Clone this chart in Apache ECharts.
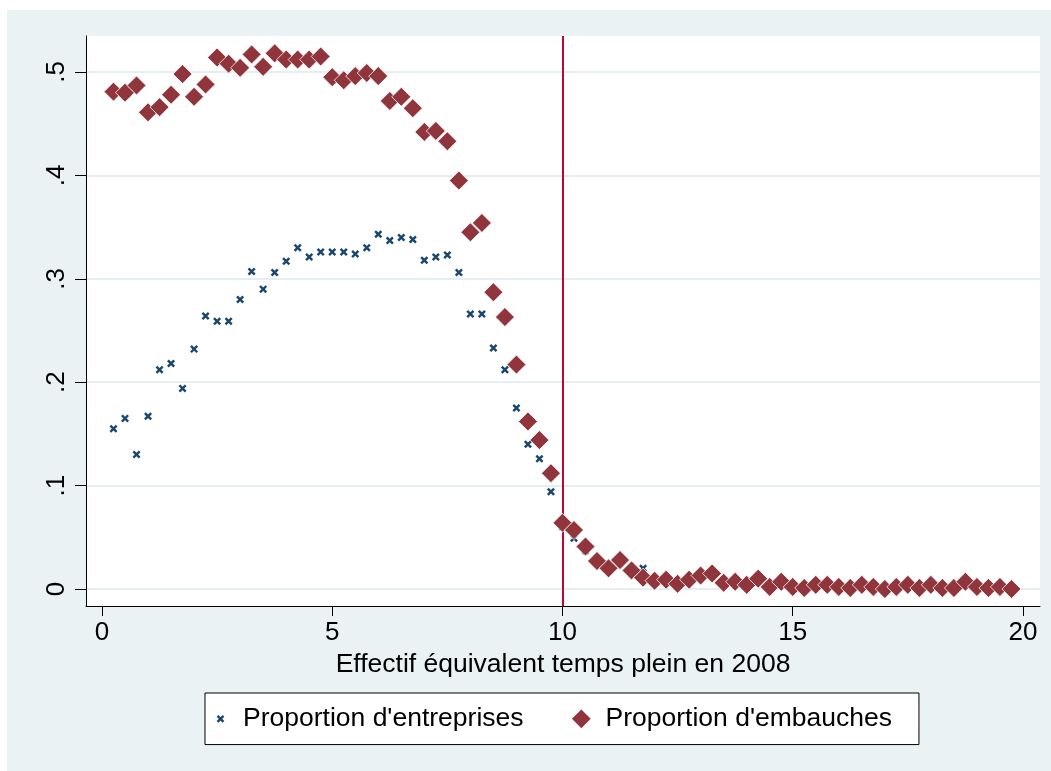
<!DOCTYPE html>
<html>
<head>
<meta charset="utf-8">
<script src="https://cdn.jsdelivr.net/npm/echarts@6/dist/echarts.min.js"></script>
<style>html,body{margin:0;padding:0;background:#fff}#c{width:1051px;height:771px}</style>
</head>
<body>
<div id="c"></div>
<script>
const xs = [0.25,0.5,0.75,1,1.25,1.5,1.75,2,2.25,2.5,2.75,3,3.25,3.5,3.75,4,4.25,4.5,4.75,5,
  5.25,5.5,5.75,6,6.25,6.5,6.75,7,7.25,7.5,7.75,8,8.25,8.5,8.75,9,9.25,9.5,9.75,10,
  10.25,10.5,10.75,11,11.25,11.5,11.75,12,12.25,12.5,12.75,13,13.25,13.5,13.75,14,14.25,14.5,14.75,15,
  15.25,15.5,15.75,16,16.25,16.5,16.75,17,17.25,17.5,17.75,18,18.25,18.5,18.75,19,19.25,19.5,19.75];
const entreprises = [0.155,0.165,0.130,0.167,0.212,0.218,0.194,0.232,0.264,0.259,0.259,0.280,0.307,0.290,0.306,0.317,0.330,0.321,0.326,0.326,
  0.326,0.324,0.330,0.343,0.337,0.340,0.338,0.318,0.321,0.323,0.306,0.266,0.266,0.233,0.212,0.175,0.140,0.126,0.094,0.060,
  0.049,0.037,0.026,0.019,0.025,0.016,0.020,0.008,0.007,0.005,0.008,0.011,0.012,0.005,0.006,0.004,0.008,0.002,0.006,0.002,
  0.001,0.003,0.003,0.002,0.001,0.003,0.002,0.000,0.002,0.003,0.001,0.003,0.001,0.001,0.005,0.002,0.001,0.002,0.000];
const embauches = [0.481,0.480,0.487,0.461,0.466,0.478,0.498,0.476,0.488,0.514,0.508,0.504,0.517,0.505,0.518,0.512,0.512,0.512,0.515,0.495,
  0.492,0.496,0.499,0.496,0.472,0.476,0.465,0.442,0.443,0.433,0.395,0.345,0.354,0.287,0.263,0.217,0.162,0.144,0.112,0.064,
  0.057,0.041,0.027,0.020,0.028,0.018,0.011,0.008,0.009,0.005,0.009,0.013,0.015,0.006,0.007,0.004,0.010,0.002,0.007,0.002,
  0.001,0.004,0.004,0.002,0.001,0.004,0.002,0.000,0.002,0.004,0.001,0.004,0.001,0.001,0.007,0.002,0.001,0.002,0.000];
const xTickValues = [0,5,10,15,20];
const xTickLabels = ['0','5','10','15','20'];
const yTickValues = [0,0.1,0.2,0.3,0.4,0.5];
const yTickLabels = ['0','.1','.2','.3','.4','.5'];
const thresholdX = [10];
const seriesNames = ["Proportion d'entreprises", "Proportion d'embauches"];
const xAxisTitle = 'Effectif équivalent temps plein en 2008';

const FONT = '"Liberation Sans", Arial, Helvetica, sans-serif';
const NAVY = '#1a476f', MAROON = '#90353b';

function xPath(cx, cy, L, t) {
  const d = t / Math.SQRT2 / 2;
  const p = (a, b) => a.toFixed(2) + ',' + b.toFixed(2);
  const a = 'M' + p(cx-L+d, cy-L-d) + ' L' + p(cx+L+d, cy+L-d) + ' L' + p(cx+L-d, cy+L+d) + ' L' + p(cx-L-d, cy-L+d) + ' Z';
  const b = 'M' + p(cx-L+d, cy+L+d) + ' L' + p(cx-L-d, cy+L-d) + ' L' + p(cx+L-d, cy-L-d) + ' L' + p(cx+L+d, cy-L+d) + ' Z';
  return a + ' ' + b;
}
const crossSymbol = 'path://' + xPath(4, 4, 3.2, 2.5);
const crossLegend = 'path://M0,0 M30,26 ' + xPath(12.5, 13, 3.0, 2.4);
const diamondLegend = 'path://M0,0 M30,26 M10.5,2 L21.5,13 L10.5,24 L-0.5,13 Z';

const fmt = (vals, labels) => v => {
  for (let i = 0; i < vals.length; i++) if (Math.abs(vals[i] - v) < 1e-9) return labels[i];
  return '';
};

const chart = echarts.init(document.getElementById('c'), null, {renderer: 'canvas'});
chart.setOption({
  backgroundColor: '#ffffff',
  animation: false,
  textStyle: {fontFamily: FONT},
  graphic: [{type: 'rect', left: 7, top: 10, z: -10, silent: true,
    shape: {width: 1044, height: 761}, style: {fill: '#eaf2f3'}}],
  grid: {left: 86, right: 11, top: 36, bottom: 165, show: true, backgroundColor: '#ffffff', borderWidth: 0},
  xAxis: {
    type: 'value', min: -0.347, max: 20.37,
    name: xAxisTitle, nameLocation: 'middle', nameGap: 42,
    nameTextStyle: {fontSize: 26.5, color: '#000', fontFamily: FONT},
    axisLine: {show: true, onZero: false, lineStyle: {color: '#000', width: 1}},
    axisTick: {show: true, length: 10, customValues: xTickValues, lineStyle: {color: '#000', width: 1}},
    axisLabel: {customValues: xTickValues, formatter: fmt(xTickValues, xTickLabels), fontSize: 26, color: '#000', margin: 14, fontFamily: FONT},
    splitLine: {show: false}
  },
  yAxis: {
    type: 'value', min: -0.01644, max: 0.5348,
    axisLine: {show: true, onZero: false, lineStyle: {color: '#000', width: 1}},
    axisTick: {show: true, length: 11, customValues: yTickValues, lineStyle: {color: '#000', width: 1}},
    axisLabel: {customValues: yTickValues, formatter: fmt(yTickValues, yTickLabels), rotate: 90, fontSize: 26, color: '#000', margin: 16, fontFamily: FONT},
    splitLine: {show: true, lineStyle: {color: '#e6eef1', width: 2}}
  },
  legend: {
    left: 205, top: 693, orient: 'horizontal',
    padding: [12, 27, 12, 3], itemGap: 46, itemWidth: 30, itemHeight: 26,
    backgroundColor: '#ffffff', borderColor: '#000', borderWidth: 1, borderRadius: 0,
    selectedMode: false,
    textStyle: {fontSize: 26.5, color: '#000', fontFamily: FONT},
    data: [{name: seriesNames[0], icon: crossLegend}, {name: seriesNames[1], icon: diamondLegend}]
  },
  series: [
    {
      name: seriesNames[0], type: 'scatter', z: 2,
      symbol: crossSymbol, symbolSize: 8,
      itemStyle: {color: NAVY, opacity: 1},
      data: xs.map((x, i) => [x, entreprises[i]]),
      markLine: {
        z: 1, silent: true, symbol: 'none', label: {show: false},
        lineStyle: {color: '#c10534', width: 2, type: 'solid'},
        emphasis: {disabled: true},
        data: thresholdX.map(v => ({xAxis: v}))
      }
    },
    {
      name: seriesNames[1], type: 'scatter', z: 3,
      symbol: 'diamond', symbolSize: 19,
      itemStyle: {color: MAROON, borderColor: '#ffffff', borderWidth: 0.8, opacity: 1},
      data: xs.map((x, i) => [x, embauches[i]])
    }
  ]
});
</script>
</body>
</html>
